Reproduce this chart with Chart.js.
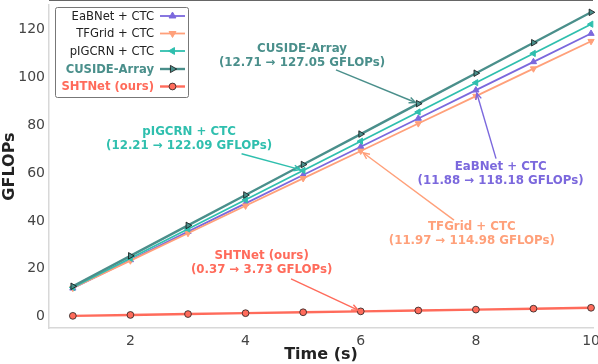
<!DOCTYPE html>
<html>
<head>
<meta charset="utf-8">
<script src="https://cdn.jsdelivr.net/npm/chart.js@4/dist/chart.umd.min.js"></script>
<style>
html,body{margin:0;padding:0;background:#fff;}
#wrap{width:598px;height:364px;}
</style>
</head>
<body>
<div id="wrap"><canvas id="c" width="598" height="364"></canvas></div>
<script>
// ---- data ----
const times = [1, 2, 3, 4, 5, 6, 7, 8, 9, 10];
const eabnet = [11.88, 23.70, 35.51, 47.32, 59.13, 70.94, 82.75, 94.56, 106.37, 118.18];
const tfgrid = [11.97, 23.41, 34.86, 46.30, 57.75, 69.19, 80.64, 92.09, 103.53, 114.98];
const pigcrn = [12.21, 24.42, 36.63, 48.84, 61.05, 73.25, 85.46, 97.67, 109.88, 122.09];
const cuside = [12.71, 25.41, 38.12, 50.82, 63.53, 76.23, 88.94, 101.64, 114.35, 127.05];
const shtnet = [0.37, 0.75, 1.12, 1.49, 1.87, 2.24, 2.61, 2.98, 3.36, 3.73];
const seriesNames = ['EaBNet + CTC', 'TFGrid + CTC', 'pIGCRN + CTC', 'CUSIDE-Array', 'SHTNet (ours)'];
const xTicks = [2, 4, 6, 8, 10];
const yTicks = [0, 20, 40, 60, 80, 100, 120];
const annoLines = [
  ['CUSIDE-Array', '(12.71 \u2192 127.05 GFLOPs)'],
  ['pIGCRN + CTC', '(12.21 \u2192 122.09 GFLOPs)'],
  ['EaBNet + CTC', '(11.88 \u2192 118.18 GFLOPs)'],
  ['TFGrid + CTC', '(11.97 \u2192 114.98 GFLOPs)'],
  ['SHTNet (ours)', '(0.37 \u2192 3.73 GFLOPs)']
];

// ---- styles ----
const colors = ['#7b68dd', '#ffa07a', '#2fbfae', '#4a8f8b', '#ff6b5b'];
const rotations = [0, 180, 270, 90, 0];
const styles = ['triangle', 'triangle', 'triangle', 'triangle', 'circle'];
const edgeColors = ['#7b68dd', '#ffa07a', '#2fbfae', '#111', '#222'];
const widths = [1.8, 1.8, 1.8, 2.4, 2.4];
const radii = [3.6, 3.6, 3.6, 3.8, 3.4];
const orders = [4, 3, 2, 1, 0];
const allValues = [eabnet, tfgrid, pigcrn, cuside, shtnet];

const datasets = allValues.map((vals, i) => ({
  label: seriesNames[i],
  data: times.map((t, k) => ({x: t, y: vals[k]})),
  borderColor: colors[i],
  backgroundColor: colors[i],
  borderWidth: widths[i],
  pointStyle: styles[i],
  pointRotation: rotations[i],
  pointRadius: radii[i],
  pointBorderColor: edgeColors[i],
  pointBackgroundColor: colors[i],
  pointBorderWidth: (i >= 3) ? 0.8 : 1,
  tension: 0,
  order: orders[i],
  clip: false
}));

// annotation layout: [series, pointIndex, text center (t,v), arrow tail (t,v)]
const annoLayout = [
  {s: 3, p: 6, text: [4.98, 109.0], tail: [5.57, 103.0]},
  {s: 2, p: 4, text: [3.02, 74.4], tail: [3.93, 68.0]},
  {s: 0, p: 7, text: [8.43, 59.4], tail: [8.35, 66.0]},
  {s: 1, p: 5, text: [7.93, 34.6], tail: [7.62, 40.3]},
  {s: 4, p: 5, text: [4.28, 22.4], tail: [4.79, 15.8]}
];

function markerPath(ctx, style, rot, x, y, r) {
  ctx.beginPath();
  if (style === 'circle') {
    ctx.arc(x, y, r, 0, Math.PI * 2);
  } else {
    const a0 = rot * Math.PI / 180;
    for (let k = 0; k < 3; k++) {
      const a = a0 + k * 2 * Math.PI / 3;
      const px = x + r * 1.1 * Math.sin(a), py = y - r * 1.1 * Math.cos(a);
      if (k === 0) ctx.moveTo(px, py); else ctx.lineTo(px, py);
    }
    ctx.closePath();
  }
}

const overlay = {
  id: 'overlay',
  afterDraw(chart) {
    const ctx = chart.ctx;
    const xs = chart.scales.x, ys = chart.scales.y;
    const area = chart.chartArea;
    ctx.save();
    // top frame line
    ctx.strokeStyle = '#666';
    ctx.lineWidth = 1;
    ctx.beginPath();
    ctx.moveTo(area.left, 0.5);
    ctx.lineTo(area.right, 0.5);
    ctx.stroke();

    // annotations
    annoLayout.forEach((a, i) => {
      const c = colors[a.s];
      const hx = xs.getPixelForValue(times[a.p]);
      const hy = ys.getPixelForValue(allValues[a.s][a.p]);
      const tx = xs.getPixelForValue(a.tail[0]);
      const ty = ys.getPixelForValue(a.tail[1]);
      const cx = xs.getPixelForValue(a.text[0]);
      const cy = ys.getPixelForValue(a.text[1]);
      // text
      ctx.fillStyle = c;
      ctx.font = 'bold 11.8px "DejaVu Sans"';
      ctx.textAlign = 'center';
      ctx.textBaseline = 'middle';
      ctx.fillText(annoLines[i][0], cx, cy - 7);
      ctx.fillText(annoLines[i][1], cx, cy + 7);
      // arrow
      const ang = Math.atan2(hy - ty, hx - tx);
      const ex = hx - Math.cos(ang) * 3, ey = hy - Math.sin(ang) * 3;
      ctx.strokeStyle = c;
      ctx.lineWidth = 1.4;
      ctx.beginPath();
      ctx.moveTo(tx, ty);
      ctx.lineTo(ex, ey);
      ctx.stroke();
      const hl = 7, spread = 0.42;
      ctx.beginPath();
      ctx.moveTo(ex - hl * Math.cos(ang - spread), ey - hl * Math.sin(ang - spread));
      ctx.lineTo(ex, ey);
      ctx.lineTo(ex - hl * Math.cos(ang + spread), ey - hl * Math.sin(ang + spread));
      ctx.stroke();
    });

    // legend
    const bx = 55.5, by = 7.5, bw = 133, bh = 90;
    ctx.fillStyle = 'rgba(255,255,255,0.9)';
    ctx.strokeStyle = '#777';
    ctx.lineWidth = 1;
    ctx.beginPath();
    if (ctx.roundRect) ctx.roundRect(bx, by, bw, bh, 2); else ctx.rect(bx, by, bw, bh);
    ctx.fill();
    ctx.stroke();
    const rowY = [16, 33.5, 51, 69, 86.5];
    seriesNames.forEach((name, i) => {
      const y = rowY[i];
      ctx.textAlign = 'right';
      ctx.textBaseline = 'middle';
      if (i >= 3) {
        ctx.font = 'bold 11.6px "DejaVu Sans"';
        ctx.fillStyle = colors[i];
      } else {
        ctx.font = '11.6px "DejaVu Sans"';
        ctx.fillStyle = '#222';
      }
      ctx.fillText(name, 154, y + 0.5);
      ctx.strokeStyle = colors[i];
      ctx.lineWidth = widths[i];
      ctx.beginPath();
      ctx.moveTo(160, y);
      ctx.lineTo(185, y);
      ctx.stroke();
      markerPath(ctx, styles[i], rotations[i], 172.5, y, radii[i]);
      ctx.fillStyle = colors[i];
      ctx.fill();
      ctx.strokeStyle = edgeColors[i];
      ctx.lineWidth = (i >= 3) ? 0.8 : 1;
      ctx.stroke();
    });
    ctx.restore();
  }
};

new Chart(document.getElementById('c'), {
  type: 'line',
  data: {datasets},
  options: {
    responsive: false,
    animation: false,
    events: [],
    layout: {padding: 0},
    plugins: {legend: {display: false}, tooltip: {enabled: false}},
    scales: {
      x: {
        type: 'linear',
        min: 0.586,
        max: 10.034,
        afterBuildTicks: s => { s.ticks = xTicks.map(v => ({value: v})); },
        afterFit: s => { s.height = 36; s.paddingLeft = 0; s.paddingRight = 0; },
        grid: {display: false, drawTicks: false},
        border: {display: true, color: '#d8d8d8', width: 1.5},
        ticks: {font: {family: 'DejaVu Sans', size: 14}, color: '#444', padding: 5, maxRotation: 0, autoSkip: false},
        title: {display: true, text: 'Time (s)', font: {family: 'DejaVu Sans', size: 16, weight: 'bold'}, color: '#222', padding: {top: 0, bottom: 0}}
      },
      y: {
        type: 'linear',
        min: -4.7,
        max: 130.1,
        afterBuildTicks: s => { s.ticks = yTicks.map(v => ({value: v})); },
        afterFit: s => { s.width = 49; s.paddingTop = 0; s.paddingBottom = 0; },
        grid: {display: false, drawTicks: false},
        border: {display: true, color: '#d8d8d8', width: 1.5},
        ticks: {font: {family: 'DejaVu Sans', size: 14}, color: '#444', padding: 4, autoSkip: false},
        title: {display: true, text: 'GFLOPs', font: {family: 'DejaVu Sans', size: 16, weight: 'bold'}, color: '#222', padding: {top: 0, bottom: 0}}
      }
    }
  },
  plugins: [overlay]
});
</script>
</body>
</html>
